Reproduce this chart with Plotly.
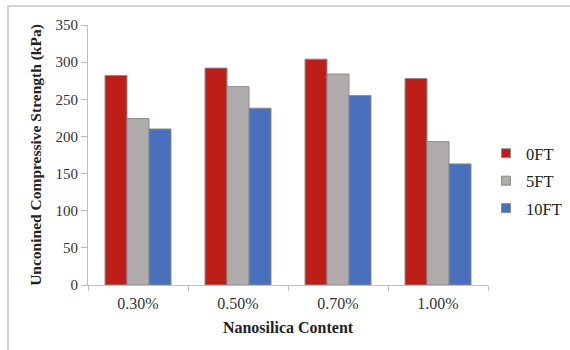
import plotly.graph_objects as go

categories = ["0.30%", "0.50%", "0.70%", "1.00%"]
series_names = ["0FT", "5FT", "10FT"]
values_0ft = [282, 292, 304, 278]
values_5ft = [224, 267, 284, 193]
values_10ft = [210, 238, 255, 163]
colors = ["#BE1E18", "#B0ACAB", "#4870BC"]

fig = go.Figure()
for name, vals, col in zip(series_names, [values_0ft, values_5ft, values_10ft], colors):
    fig.add_trace(go.Bar(
        x=categories, y=vals, name=name, legendgroup=name, showlegend=False,
        marker=dict(color=col, line=dict(color="#8C8C8C", width=1)),
    ))
    # legend proxy with small square marker
    fig.add_trace(go.Scatter(
        x=[None], y=[None], mode="markers", name=name, legendgroup=name,
        marker=dict(symbol="square", size=9, color=col, line=dict(color="#8C8C8C", width=1)),
    ))

font_family = "Liberation Serif, Times New Roman, serif"
L, R, T, B = 88, 82, 25, 65
W, H = 570, 350
pw, ph = W - L - R, H - T - B

fig.update_layout(
    width=W, height=H,
    margin=dict(l=L, r=R, t=T, b=B, autoexpand=False),
    paper_bgcolor="white", plot_bgcolor="white",
    barmode="group", bargap=0.34, bargroupgap=0,
    font=dict(family=font_family, size=16, color="#333333"),
    showlegend=True,
    legend=dict(x=0.995, y=0.40, xanchor="left", yanchor="middle",
                font=dict(family=font_family, size=16.5, color="#222222"),
                bgcolor="rgba(0,0,0,0)", tracegroupgap=3, itemwidth=30,
                traceorder="grouped"),
    xaxis=dict(
        title=dict(text="<b>Nanosilica Content</b>", font=dict(family=font_family, size=16, color="#222222"), standoff=10),
        showline=True, linecolor="#BFBFBF", linewidth=1,
        ticks="outside", tickson="boundaries", ticklen=5, tickcolor="#BFBFBF",
        showgrid=False, tickfont=dict(size=16, color="#333333"),
        ticklabelstandoff=4, automargin=False,
    ),
    yaxis=dict(
        title=dict(text="<b>Unconined Compressive Strength (kPa)</b>", font=dict(family=font_family, size=15.5, color="#222222"), standoff=10),
        range=[0, 350], dtick=50,
        showline=True, linecolor="#BFBFBF", linewidth=1,
        ticks="outside", ticklen=6, tickcolor="#BFBFBF",
        showgrid=False, zeroline=False, tickfont=dict(size=15, color="#333333"),
        automargin=False,
    ),
)

# outer frame (top and left edges visible)
fig.add_shape(type="rect", xref="paper", yref="paper",
              x0=(8 - L) / pw, x1=(W + 20 - L) / pw,
              y0=-(H + 20 - T - ph) / ph, y1=(285 - 6) / ph,
              line=dict(color="#C8C8C8", width=1.5), fillcolor="rgba(0,0,0,0)", layer="below")

fig.write_html("out.html", config={"displayModeBar": False},
               post_script="document.body.style.margin='0';document.body.style.padding='0';")
